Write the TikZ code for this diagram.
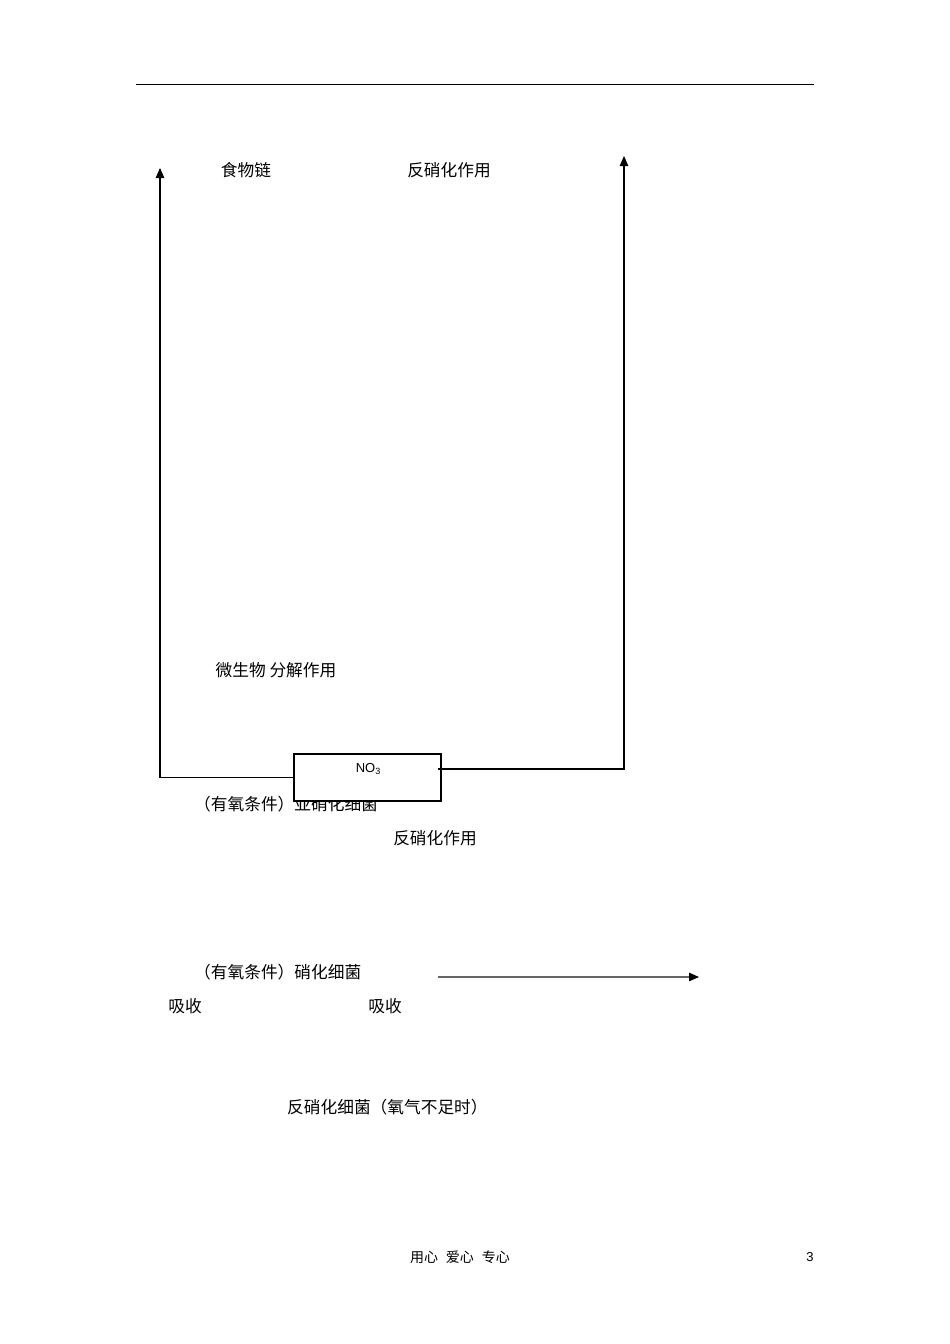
\documentclass[tikz,border=0pt]{standalone}
\usepackage{fontspec}
\setmainfont{Liberation Sans}
\newfontfamily\cjk{Noto Sans CJK SC}
\usetikzlibrary{arrows.meta}
\tikzset{
  lbl/.style={font=\cjk\fontsize{16.7}{16.7}\selectfont, inner sep=0pt},
  foot/.style={font=\cjk\fontsize{14}{14}\selectfont, inner sep=0pt},
  flow/.style={line width=1.1pt, -{Triangle[length=10pt,width=8.5pt]}},
}
\begin{document}
\begin{tikzpicture}[x=1pt,y=-1pt]
			%%%%% START %%%%%
			\useasboundingbox[fill=white] (0,0) rectangle (950,1344);
			
			\draw[line width=1pt] (136,84) -- (814,84);
			
			\node[lbl] (food) at (246,170) {食物链};
			\node[lbl] (denitTop) at (449,170) {反硝化作用};
			\node[lbl] (decomp) at (276,670) {微生物 分解作用};
			\node[lbl, anchor=west] (nitrite) at (194,804) {（有氧条件）亚硝化细菌};
			\node[lbl] (denitMid) at (435,838) {反硝化作用};
			\node[lbl, anchor=west] (nitrate) at (194,972) {（有氧条件）硝化细菌};
			\node[lbl] (absorbL) at (185,1006) {吸收};
			\node[lbl] (absorbR) at (385,1006) {吸收};
			\node[lbl, anchor=west] (denitBac) at (287,1107) {反硝化细菌（氧气不足时）};
			
			\node[draw, fill=white, line width=1.1pt, minimum width=147pt, minimum height=47pt, inner sep=0pt] (no3box) at (367.5,777.5) {};
			\node[inner sep=0pt, font=\fontsize{13}{13}\selectfont] (no3) at (368,769) {NO\raisebox{-2.5pt}{\fontsize{9}{9}\selectfont 3}};
			
			\coordinate (leftTop) at (160,168);
			\draw[flow] (no3box.west) -| (leftTop);
			
			\coordinate (rightStart) at (438,769);
			\coordinate (rightTop) at (624,156);
			\draw[flow] (rightStart) -| (rightTop);
			
			\coordinate (arrStart) at (438,977);
			\coordinate (arrEnd) at (699,977);
			\draw[flow, black!60, -{Triangle[length=10pt,width=8.5pt,black]}] (arrStart) -- (arrEnd);
			
			\node[foot] (motto) at (460,1257) {用心\hspace{8pt}爱心\hspace{8pt}专心};
			\node[inner sep=0pt, font=\fontsize{13}{13}\selectfont] (page) at (810,1257) {3};
			%%%%% END %%%%%
\end{tikzpicture}
\end{document}
